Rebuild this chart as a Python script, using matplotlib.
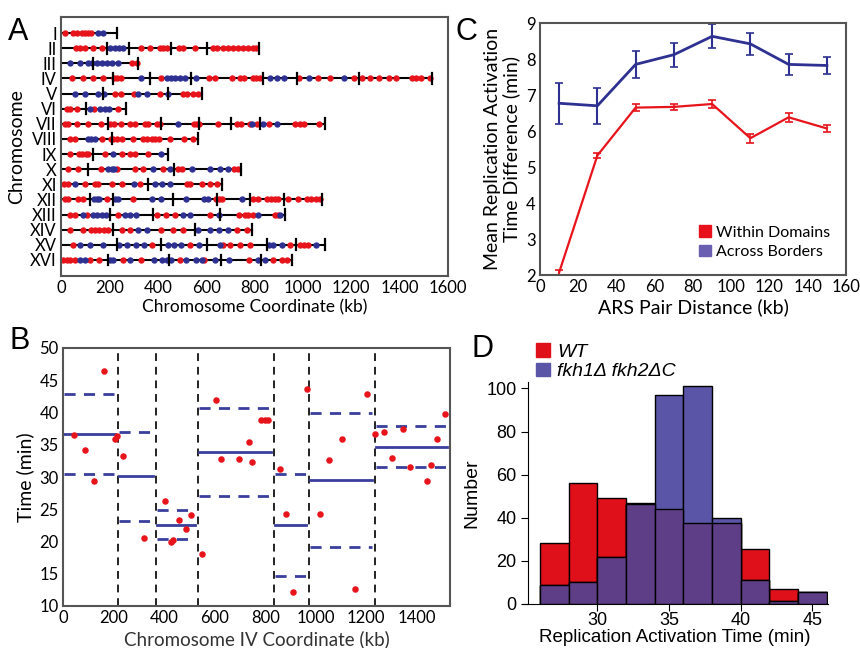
import numpy as np
import matplotlib.pyplot as plt
from matplotlib.patches import Patch

plt.rcParams['font.family'] = ['Lato', 'DejaVu Sans']

RED = '#e8141c'
NAVY = '#2e3192'
LINE_BLUE = '#3a3f9e'
ARIAL = ['Liberation Sans', 'DejaVu Sans']

# ---- panel A: ARS positions per chromosome (kb) ----
chrom_names = ['I', 'II', 'III', 'IV', 'V', 'VI', 'VII', 'VIII', 'IX', 'X',
               'XI', 'XII', 'XIII', 'XIV', 'XV', 'XVI']
chrom_len = [233, 817, 319, 1535, 581, 270, 1091, 565, 443, 746,
             664, 1081, 927, 788, 1091, 953]
chrom_borders = [
    [], [191, 281, 453, 602], [134], [217, 368, 536, 835, 975, 1233],
    [175, 443], [103], [193, 413, 571, 702, 822], [209], [132], [110, 469],
    [361], [120, 213, 461, 646, 781, 921], [202, 379, 657], [213, 554],
    [233, 413, 603, 850, 971], [193, 448, 661, 825],
]
red_ars = [
    [17, 51, 65, 85, 99, 113, 124],
    [61, 78, 99, 134, 168, 330, 368, 409, 423, 437, 487, 503, 554, 629, 643,
     671, 691, 712, 733, 753, 774, 795, 808],
    [295, 313],
    [44, 92, 134, 175, 221, 232, 249, 413, 611, 636, 705, 739, 757, 795, 808,
     822, 985, 1063, 1113, 1212, 1246, 1279, 1314, 1355, 1383, 1451, 1469,
     1490, 1524],
    [223, 250, 302, 409, 505, 519, 547, 565],
    [23, 37, 67, 138, 237],
    [17, 30, 65, 113, 164, 202, 220, 248, 285, 306, 347, 361, 395, 409, 548,
     562, 569, 651, 726, 746, 781, 810, 861, 966, 987, 1003, 1067],
    [37, 58, 168, 207, 216, 233, 251, 299, 340, 354, 375, 389, 405, 450, 508, 544],
    [37, 74, 88, 102, 113, 182, 251, 285, 306, 361],
    [30, 69, 165, 230, 306, 340, 423, 485, 499, 717, 733],
    [14, 30, 99, 140, 154, 209, 251, 326, 519, 533, 581, 616, 643],
    [17, 30, 72, 92, 189, 296, 640, 654, 664, 795, 816, 850, 867, 885, 899,
     939, 980, 1015, 1035, 1056, 1072],
    [37, 58, 109, 237, 398, 436, 471, 618, 737, 760, 774, 795, 884, 898],
    [37, 90, 123, 140, 158, 178, 196, 251, 285, 413, 461, 505, 728, 769],
    [48, 377, 533, 668, 698, 740, 781, 948, 987, 1004, 1022],
    [10, 23, 37, 58, 120, 158, 257, 329, 492, 591, 777, 877, 912, 933],
]
blue_ars = [
    [151, 175],
    [202, 223, 241, 255],
    [37, 78, 113, 127, 147, 168, 189, 209, 234],
    [330, 437, 454, 471, 492, 512, 560, 863, 891, 921, 1026, 1168],
    [58, 99, 154, 179, 320, 354, 443],
    [120, 161, 182, 200],
    [482, 788, 836, 891],
    [113, 124, 140],
    [216, 413],
    [196, 209, 220, 381, 450, 543, 615, 657, 690],
    [58, 303, 388, 419, 450],
    [138, 147, 158, 223, 237, 378, 413, 516, 591, 609, 750],
    [92, 131, 147, 168, 186, 264, 285, 312, 505, 533, 655, 815, 905],
    [319, 354, 567, 616, 654, 691],
    [79, 118, 172, 241, 271, 309, 342, 443, 466, 498, 571, 657, 861, 877, 912, 1056],
    [78, 99, 202, 216, 285, 384, 419, 437, 456, 516, 560, 581, 636, 696, 815, 843],
]

# ---- panel B: chromosome IV domains ----
chr4_len = 1531
dom_borders = [217, 368, 536, 835, 975, 1233]
dom_mean = [36.6, 30.1, 22.6, 33.8, 22.5, 29.6, 34.7]
dom_upper = [42.9, 36.9, 24.9, 40.7, 30.5, 40.0, 37.9]
dom_lower = [30.4, 23.2, 20.4, 27.0, 14.6, 19.2, 31.5]
ars_kb = [42, 88, 122, 164, 206, 214, 237, 322, 405, 429, 436, 460, 486, 505,
          550, 606, 626, 697, 734, 749, 782, 798, 812, 858, 881, 910, 965, 1018,
          1054, 1102, 1157, 1203, 1236, 1269, 1301, 1345, 1371, 1441, 1457,
          1480, 1512]
ars_time = [36.5, 34.2, 29.4, 46.5, 35.9, 36.4, 33.2, 20.5, 26.3, 19.9, 20.2,
            23.3, 22.0, 24.1, 18.0, 42.0, 32.8, 32.8, 35.4, 32.3, 38.8, 38.8,
            38.8, 31.3, 24.2, 12.1, 43.6, 24.2, 32.6, 35.9, 12.6, 42.9, 36.7,
            36.9, 33.0, 37.5, 31.5, 29.4, 31.9, 35.9, 39.8]

# ---- panel C ----
pair_dist = [10, 30, 50, 70, 90, 110, 130, 150]
within_mean = [2.07, 5.32, 6.65, 6.67, 6.75, 5.80, 6.38, 6.07]
within_err = [0.07, 0.06, 0.10, 0.09, 0.10, 0.12, 0.13, 0.11]
across_mean = [6.77, 6.70, 7.85, 8.12, 8.63, 8.42, 7.85, 7.82]
across_err = [0.57, 0.50, 0.37, 0.33, 0.33, 0.30, 0.29, 0.24]

# ---- panel D ----
bin_edges = [26, 28, 30, 32, 34, 36, 38, 40, 42, 44, 46]
wt_counts = [28.5, 56, 49, 47, 44, 37.5, 37.5, 25.5, 6.8, 5.5]
fkh_counts = [9, 10, 22, 46.5, 97, 101, 40, 11, 1.2, 5.5]

fig = plt.figure(figsize=(8.6, 6.48), dpi=100)
W, H = 860, 648


def box(l, t, r, b):
    return [l / W, 1 - b / H, (r - l) / W, (b - t) / H]


def frame(ax):
    for s in ax.spines.values():
        s.set_color('#555555')
        s.set_linewidth(1.5)
    ax.tick_params(length=0, labelsize=12, pad=3)


# ---------- A ----------
axA = fig.add_axes(box(61, 17, 448, 276))
for i, name in enumerate(chrom_names):
    y = i + 1
    axA.plot([0, chrom_len[i]], [y, y], color='black', lw=1.5, zorder=1)
    for bx in chrom_borders[i] + [chrom_len[i]]:
        axA.plot([bx, bx], [y - 0.36, y + 0.36], color='black', lw=1.6, zorder=3)
    axA.scatter(red_ars[i], [y] * len(red_ars[i]), s=21, color=RED, lw=0, zorder=2)
    axA.scatter(blue_ars[i], [y] * len(blue_ars[i]), s=21, color=NAVY, lw=0, zorder=2)
axA.set_xlim(0, 1600)
axA.set_ylim(17.06, -0.06)
axA.set_yticks(range(1, 17))
axA.set_yticklabels(chrom_names)
axA.set_xticks(range(0, 1601, 200))
frame(axA)
axA.set_xlabel('Chromosome Coordinate (kb)', fontsize=12.5, labelpad=2)
axA.set_ylabel('Chromosome', fontsize=14, labelpad=4)

# ---------- B ----------
axB = fig.add_axes(box(63, 348, 450, 606))
edges = [0] + dom_borders + [chr4_len]
for bx in dom_borders:
    axB.axvline(bx, color='#222222', lw=1.4, ls=(0, (4, 3)), zorder=1)
for k in range(len(dom_mean)):
    x0, x1 = edges[k] + 4, edges[k + 1] - 12
    axB.plot([x0, x1], [dom_mean[k]] * 2, color=LINE_BLUE, lw=2, zorder=2)
    axB.plot([x0, x1], [dom_upper[k]] * 2, color=LINE_BLUE, lw=2, ls=(0, (4, 3)), zorder=2)
    axB.plot([x0, x1], [dom_lower[k]] * 2, color=LINE_BLUE, lw=2, ls=(0, (4, 3)), zorder=2)
axB.scatter(ars_kb, ars_time, s=22, color=RED, lw=0, zorder=3)
axB.set_xlim(0, chr4_len)
axB.set_ylim(10, 50)
axB.set_xticks(range(0, 1401, 200))
axB.set_yticks(range(10, 51, 5))
frame(axB)
axB.set_xlabel('Chromosome IV Coordinate (kb)', fontsize=13.5, labelpad=3, color='#333333')
axB.set_ylabel('Time (min)', fontsize=14, labelpad=4)

# ---------- C ----------
axC = fig.add_axes(box(540, 23, 846, 275))
axC.errorbar(pair_dist, across_mean, yerr=across_err, color=NAVY, lw=2,
             elinewidth=1.5, capsize=3, capthick=1.2)
axC.errorbar(pair_dist, within_mean, yerr=within_err, color=RED, lw=1.6,
             elinewidth=1.2, capsize=3, capthick=1.2)
axC.set_xlim(0, 160)
axC.set_ylim(2, 9)
axC.set_xticks(range(0, 161, 20))
axC.set_yticks(range(2, 10))
frame(axC)
axC.set_xlabel('ARS Pair Distance (kb)', fontsize=14, labelpad=2)
axC.set_ylabel('Mean Replication Activation\nTime Difference (min)', fontsize=14,
               labelpad=4, linespacing=1.1)
axC.legend(handles=[Patch(color='#e8101a', label='Within Domains'),
                    Patch(color='#6a5fb0', label='Across Borders')],
           loc='lower right', frameon=False, fontsize=11.5, handlelength=0.75,
           handleheight=0.75, handletextpad=0.3, labelspacing=0.3,
           borderaxespad=0.6)

# ---------- D ----------
axD = fig.add_axes(box(522, 382, 828, 604))
left = np.array(bin_edges[:-1])
width = np.diff(bin_edges)
wt = np.array(wt_counts)
fkh = np.array(fkh_counts)
axD.bar(left, wt, width=width, align='edge', color='#e0101a', edgecolor='black', lw=1)
axD.bar(left, fkh, width=width, align='edge', color='#5a55a6', edgecolor='black', lw=1)
axD.bar(left, np.minimum(wt, fkh), width=width, align='edge', color='#5e3f87',
        edgecolor='black', lw=1)
axD.set_xlim(24.75, 46.1)
axD.set_ylim(0, 103)
axD.spines['left'].set_position(('data', 25.2))
axD.spines['top'].set_visible(False)
axD.spines['right'].set_visible(False)
axD.set_xticks([30, 35, 40, 45])
axD.set_yticks(range(0, 101, 20))
axD.tick_params(labelsize=13, length=5)
axD.tick_params(axis='x', pad=1)
for lab in axD.get_xticklabels() + axD.get_yticklabels():
    lab.set_family(ARIAL)
axD.set_xlabel('Replication Activation Time (min)', fontsize=13.5, labelpad=0,
               family=ARIAL)
axD.set_ylabel('Number', fontsize=14, labelpad=4, family=ARIAL)
axD.legend(handles=[Patch(color='#e0101a', label='WT'),
                    Patch(color='#5a55a6', label='fkh1Δ fkh2ΔC')],
           loc='upper left', bbox_to_anchor=(0.02, 1.21), frameon=False,
           prop={'family': ARIAL, 'style': 'italic', 'size': 14},
           handlelength=0.7, handleheight=0.7, handletextpad=0.4, labelspacing=0.1,
           borderaxespad=0)

# panel letters
for letter, (px, py) in zip('ABCD', [(8, 40), (10, 349), (456, 40), (472, 357)]):
    fig.text(px / W, 1 - py / H, letter, fontsize=22, family=ARIAL)

fig.savefig('out.png', dpi=100)
